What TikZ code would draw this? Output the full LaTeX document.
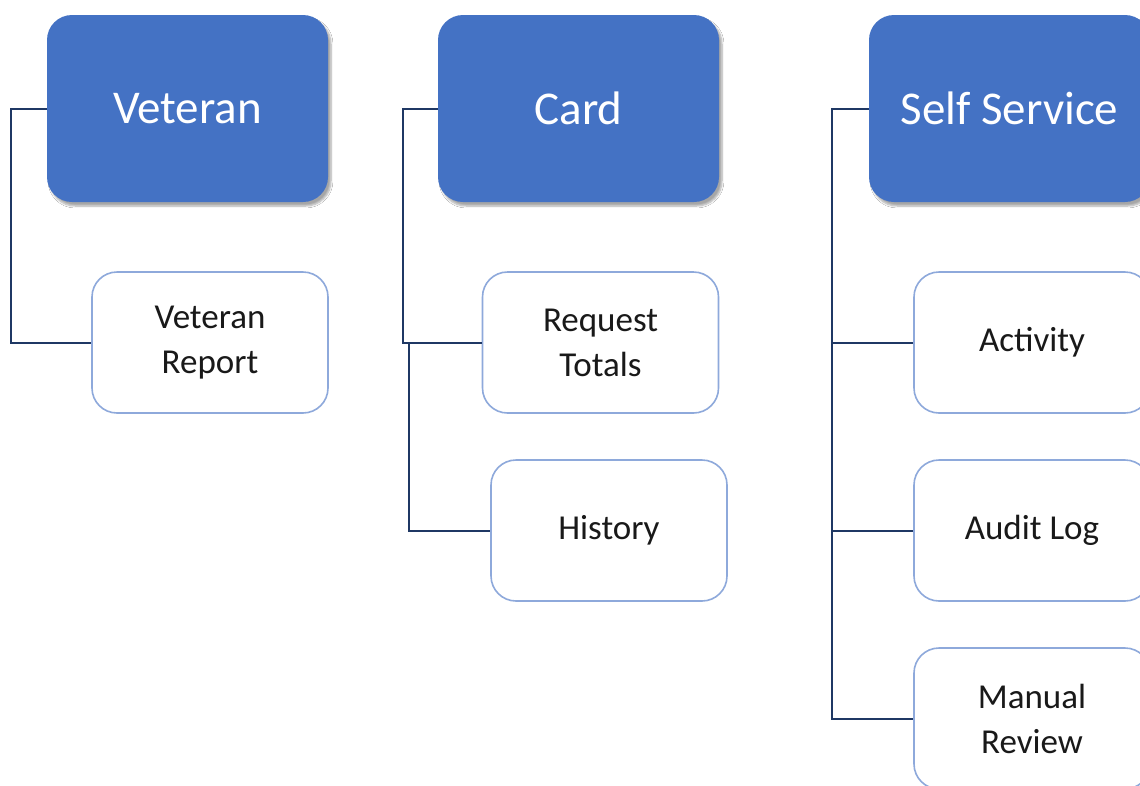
\documentclass[tikz,border=0pt]{standalone}
\usepackage{fontspec}
\setmainfont{Carlito}
\usetikzlibrary{shadows.blur,calc}
\definecolor{headblue}{HTML}{4472C4}
\definecolor{childedge}{HTML}{8EA9DB}
\definecolor{linknavy}{HTML}{1F3864}
\begin{document}
\begin{tikzpicture}[x=1pt,y=-1pt,
  headbox/.style={rectangle, rounded corners=25pt, fill=headblue, draw=none,
    minimum width=281pt, minimum height=187pt, inner sep=0pt, text=white,
    font=\fontsize{47}{52}\selectfont,
    blur shadow={shadow xshift=3pt, shadow yshift=-4pt, shadow blur steps=6, shadow opacity=35}},
  childbox/.style={rectangle, rounded corners=25pt, fill=white, draw=childedge, line width=1.6pt,
    minimum width=236pt, minimum height=141pt, inner sep=0pt, align=center, text=black!90,
    font=\fontsize{35}{45}\selectfont},
  link/.style={draw=linknavy, line width=2pt}
]
\useasboundingbox (0,0) rectangle (1140,785);
\clip (0,0) rectangle (1140,785);
\fill[white] (0,0) rectangle (1140,785);

% headers
\node[headbox] (vet) at (187.5,108.5) {Veteran};
\node[headbox] (card) at (578.5,108.5) {Card};
\node[headbox] (ss) at (1009.5,108.5) {Self Service};

% children
\node[childbox] (vr) at (210,342.5) {Veteran\\Report};
\node[childbox] (rt) at (600.5,342.5) {Request\\Totals};
\node[childbox] (hist) at (609,530.5) {History};
\node[childbox] (act) at (1032,342.5) {Activity};
\node[childbox] (aud) at (1032,530.5) {Audit Log};
\node[childbox] (man) at (1032,718.5) {Manual\\Review};

% connectors
\draw[link] (vet.west) -- ++(-36,0) |- (vr.west);
\draw[link] (card.west) -- ++(-35,0) |- (rt.west);
\draw[link] ($(rt.west)+(-73,0)$) |- (hist.west);
\draw[link] (ss.west) -- ++(-37,0) |- (man.west);
\draw[link] (act.west) -- ++(-82,0);
\draw[link] (aud.west) -- ++(-82,0);
\end{tikzpicture}
\end{document}
